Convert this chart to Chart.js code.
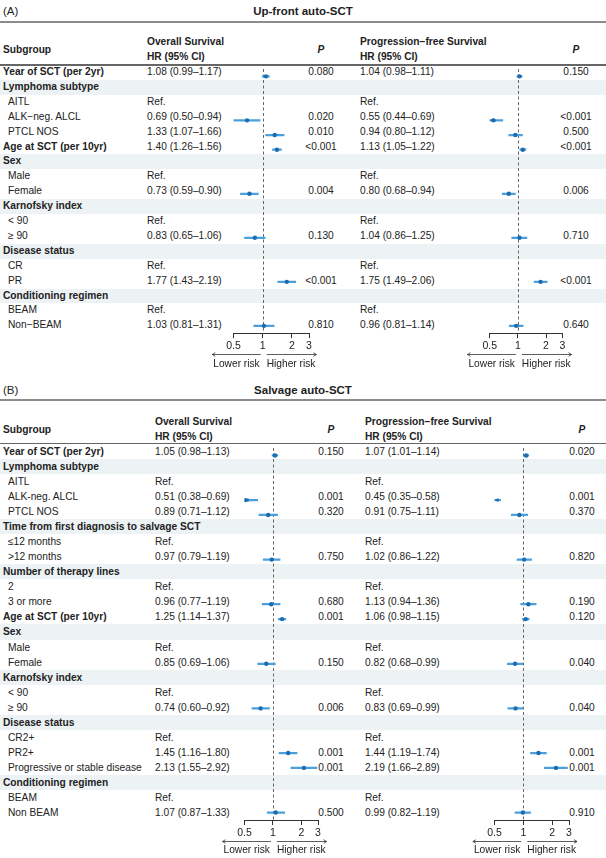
<!DOCTYPE html>
<html>
<head>
<meta charset="utf-8">
<script src="https://cdn.jsdelivr.net/npm/chart.js@4.4.1/dist/chart.umd.min.js"></script>
<style>
  body { margin: 0; background: #fff; }
  #page { position: relative; width: 606px; height: 858px; overflow: hidden; font-family: "Liberation Sans", Arial, Helvetica, sans-serif; font-size: 10.2px; color: #222; }
  .t { position: absolute; white-space: nowrap; }
  .b { font-weight: bold; }
  .c { text-align: center; width: 50px; }
  .band { position: absolute; left: 0; width: 606px; background: #edf2f4; }
  .rule { position: absolute; left: 0; width: 606px; }
  canvas { position: absolute; }
</style>
</head>
<body>
<div id="page"></div>
<script>
// (A) Up-front auto-SCT
const rowsA = ['Year of SCT (per 2yr)', 'Lymphoma subtype', 'AITL', 'ALK−neg. ALCL', 'PTCL NOS', 'Age at SCT (per 10yr)', 'Sex', 'Male', 'Female', 'Karnofsky index', '< 90', '≥ 90', 'Disease status', 'CR', 'PR', 'Conditioning regimen', 'BEAM', 'Non−BEAM'];
// v = single variable, g = group header, r = reference level, l = level
const kindA = ['v', 'g', 'r', 'l', 'l', 'v', 'g', 'r', 'l', 'g', 'r', 'l', 'g', 'r', 'l', 'g', 'r', 'l'];
const osHrA = [1.08, null, null, 0.69, 1.33, 1.40, null, null, 0.73, null, null, 0.83, null, null, 1.77, null, null, 1.03];
const osLoA = [0.99, null, null, 0.50, 1.07, 1.26, null, null, 0.59, null, null, 0.65, null, null, 1.43, null, null, 0.81];
const osHiA = [1.17, null, null, 0.94, 1.66, 1.56, null, null, 0.90, null, null, 1.06, null, null, 2.19, null, null, 1.31];
const osPA = ['0.080', '', '', '0.020', '0.010', '<0.001', '', '', '0.004', '', '', '0.130', '', '', '<0.001', '', '', '0.810'];
const pfsHrA = [1.04, null, null, 0.55, 0.94, 1.13, null, null, 0.80, null, null, 1.04, null, null, 1.75, null, null, 0.96];
const pfsLoA = [0.98, null, null, 0.44, 0.80, 1.05, null, null, 0.68, null, null, 0.86, null, null, 1.49, null, null, 0.81];
const pfsHiA = [1.11, null, null, 0.69, 1.12, 1.22, null, null, 0.94, null, null, 1.25, null, null, 2.06, null, null, 1.14];
const pfsPA = ['0.150', '', '', '<0.001', '0.500', '<0.001', '', '', '0.006', '', '', '0.710', '', '', '<0.001', '', '', '0.640'];

// (B) Salvage auto-SCT
const rowsB = ['Year of SCT (per 2yr)', 'Lymphoma subtype', 'AITL', 'ALK-neg. ALCL', 'PTCL NOS', 'Time from first diagnosis to salvage SCT', '≤12 months', '>12 months', 'Number of therapy lines', '2', '3 or more', 'Age at SCT (per 10yr)', 'Sex', 'Male', 'Female', 'Karnofsky index', '< 90', '≥ 90', 'Disease status', 'CR2+', 'PR2+', 'Progressive or stable disease', 'Conditioning regimen', 'BEAM', 'Non BEAM'];
const kindB = ['v', 'g', 'r', 'l', 'l', 'g', 'r', 'l', 'g', 'r', 'l', 'v', 'g', 'r', 'l', 'g', 'r', 'l', 'g', 'r', 'l', 'l', 'g', 'r', 'l'];
const osHrB = [1.05, null, null, 0.51, 0.89, null, null, 0.97, null, null, 0.96, 1.25, null, null, 0.85, null, null, 0.74, null, null, 1.45, 2.13, null, null, 1.07];
const osLoB = [0.98, null, null, 0.38, 0.71, null, null, 0.79, null, null, 0.77, 1.14, null, null, 0.69, null, null, 0.60, null, null, 1.16, 1.55, null, null, 0.87];
const osHiB = [1.13, null, null, 0.69, 1.12, null, null, 1.19, null, null, 1.19, 1.37, null, null, 1.06, null, null, 0.92, null, null, 1.80, 2.92, null, null, 1.33];
const osPB = ['0.150', '', '', '0.001', '0.320', '', '', '0.750', '', '', '0.680', '0.001', '', '', '0.150', '', '', '0.006', '', '', '0.001', '0.001', '', '', '0.500'];
const pfsHrB = [1.07, null, null, 0.45, 0.91, null, null, 1.02, null, null, 1.13, 1.06, null, null, 0.82, null, null, 0.83, null, null, 1.44, 2.19, null, null, 0.99];
const pfsLoB = [1.01, null, null, 0.35, 0.75, null, null, 0.86, null, null, 0.94, 0.98, null, null, 0.68, null, null, 0.69, null, null, 1.19, 1.66, null, null, 0.82];
const pfsHiB = [1.14, null, null, 0.58, 1.11, null, null, 1.22, null, null, 1.36, 1.15, null, null, 0.99, null, null, 0.99, null, null, 1.74, 2.89, null, null, 1.19];
const pfsPB = ['0.020', '', '', '0.001', '0.370', '', '', '0.820', '', '', '0.190', '0.120', '', '', '0.040', '', '', '0.040', '', '', '0.001', '0.001', '', '', '0.910'];

const xTicks = [0.5, 1, 2, 3];

const ciColor = '#4aa0dc';
const ptColor = '#1c6cb0';
const FONT = '"Liberation Sans", Arial, sans-serif';
const page = document.getElementById('page');

function addText(txt, x, y, cls, extra) {
    const d = document.createElement('div');
    d.className = 't ' + (cls || '');
    d.textContent = txt;
    d.style.left = x + 'px';
    d.style.top = y + 'px';
    if (extra) Object.assign(d.style, extra);
    page.appendChild(d);
    return d;
}

function addBox(cls, top, h, color) {
    const d = document.createElement('div');
    d.className = cls;
    d.style.top = top + 'px';
    d.style.height = h + 'px';
    if (color) d.style.background = color;
    page.appendChild(d);
}

const fmt = v => v.toFixed(2);

// vertical dashed line at HR = 1
const refLine = {
    id: 'refLine',
    beforeDatasetsDraw(chart) {
        const { ctx, chartArea } = chart;
        const x = Math.round(chart.scales.x.getPixelForValue(1)) + 0.5;
        ctx.save();
        ctx.strokeStyle = '#666';
        ctx.lineWidth = 1;
        ctx.setLineDash([3, 2.5]);
        ctx.beginPath();
        ctx.moveTo(x, chartArea.top);
        ctx.lineTo(x, chartArea.bottom);
        ctx.stroke();
        ctx.restore();
    }
};

// arrows + "Lower risk / Higher risk" under the axis, and left arrowheads for cut CIs
const riskArrows = {
    id: 'riskArrows',
    afterDraw(chart) {
        const { ctx, chartArea } = chart;
        const xs = chart.scales.x;
        const x1 = xs.getPixelForValue(1);
        const ay = Math.round(chartArea.bottom + 21) + 0.5;
        const ty = chartArea.bottom + 30.5;
        ctx.save();
        ctx.font = '10.2px ' + FONT;
        ctx.fillStyle = '#222';
        ctx.strokeStyle = '#333';
        ctx.lineWidth = 0.8;
        ctx.textBaseline = 'middle';
        const wl = ctx.measureText('Lower risk').width;
        const wh = ctx.measureText('Higher risk').width;
        ctx.textAlign = 'right';
        ctx.fillText('Lower risk', x1 - 3, ty);
        ctx.textAlign = 'left';
        ctx.fillText('Higher risk', x1 + 4, ty);
        const la = x1 - 3 - wl - 1, lb = x1 - 2;
        const ra = x1 + 4, rb = x1 + 4 + wh + 1;
        ctx.beginPath();
        ctx.moveTo(lb, ay); ctx.lineTo(la, ay);
        ctx.moveTo(la + 3, ay - 1.8); ctx.lineTo(la, ay); ctx.lineTo(la + 3, ay + 1.8);
        ctx.moveTo(ra, ay); ctx.lineTo(rb, ay);
        ctx.moveTo(rb - 3, ay - 1.8); ctx.lineTo(rb, ay); ctx.lineTo(rb - 3, ay + 1.8);
        ctx.stroke();

        const lo = chart.config.options.ciLow || [];
        const ys = chart.scales.y;
        ctx.fillStyle = ptColor;
        lo.forEach((v, i) => {
            if (v == null || v >= xs.min) return;
            const y = ys.getPixelForValue(i);
            const x = chartArea.left;
            ctx.beginPath();
            ctx.moveTo(x, y);
            ctx.lineTo(x + 4, y - 2);
            ctx.lineTo(x + 4, y + 2);
            ctx.closePath();
            ctx.fill();
        });
        ctx.restore();
    }
};

function forest(rows, hr, lo, hi, top, rowH, range) {
    const padL = 45, padR = 30, axisH = 42;
    const left = Math.floor(range[0]) - padL;
    const w = Math.ceil(range[1] - left + padR);
    const h = Math.ceil(rows.length * rowH + axisH);
    const canvas = document.createElement('canvas');
    canvas.width = w;
    canvas.height = h;
    canvas.style.left = left + 'px';
    canvas.style.top = top + 'px';
    page.appendChild(canvas);

    new Chart(canvas, {
        type: 'bar',
        data: {
            labels: rows,
            datasets: [
                {
                    type: 'scatter',
                    data: hr.map((v, i) => v == null ? null : { x: v, y: rows[i] }).filter(Boolean),
                    backgroundColor: ptColor,
                    borderWidth: 0,
                    pointRadius: 2.2
                },
                {
                    type: 'bar',
                    data: lo.map((v, i) => v == null ? null : [v, hi[i]]),
                    backgroundColor: ciColor,
                    borderWidth: 0,
                    barThickness: 1.6
                }
            ]
        },
        options: {
            indexAxis: 'y',
            responsive: false,
            animation: false,
            events: [],
            ciLow: lo,
            layout: { padding: { left: range[0] - left, right: left + w - range[1], top: 0, bottom: h - rows.length * rowH - axisH } },
            plugins: { legend: { display: false }, tooltip: { enabled: false } },
            scales: {
                x: {
                    type: 'logarithmic',
                    min: xTicks[0],
                    max: xTicks[xTicks.length - 1],
                    afterBuildTicks: s => { s.ticks = xTicks.map(v => ({ value: v })); },
                    afterFit: s => { s.height = axisH; },
                    ticks: {
                        callback: v => String(v),
                        autoSkip: false,
                        maxRotation: 0,
                        padding: 2,
                        color: '#222',
                        font: { size: 10.5, family: FONT }
                    },
                    grid: { drawOnChartArea: false, drawTicks: true, tickLength: 5, color: '#333', lineWidth: 1 },
                    border: { display: true, color: '#333', width: 1 }
                },
                y: { type: 'category', display: false, offset: true }
            }
        },
        plugins: [refLine, riskArrows]
    });
}

function panel(L, rows, kind, os, pfs) {
    // title
    addText(L.tag, 3, L.titleY - 8, '', { fontSize: '11.5px', lineHeight: '16px' });
    addText(L.title, 0, L.titleY - 8, 'b', { fontSize: '11.5px', lineHeight: '16px', width: '606px', textAlign: 'center' });
    addBox('rule', L.ruleY - 1.25, 2.5, '#8c8c8c');

    // header
    const hl = { lineHeight: '14px' };
    addText('Subgroup', 3, L.headMid - 7, 'b', hl);
    addText('Overall Survival', L.hr1X, L.head1Y - 7, 'b', hl);
    addText('HR (95% CI)', L.hr1X, L.head2Y - 7, 'b', hl);
    addText('P', L.p1X - 25, L.headMid - 7, 'b c', Object.assign({ fontStyle: 'italic' }, hl));
    addText('Progression−free Survival', L.hr2X, L.head1Y - 7, 'b', hl);
    addText('HR (95% CI)', L.hr2X, L.head2Y - 7, 'b', hl);
    addText('P', L.p2X - 25, L.headMid - 7, 'b c', Object.assign({ fontStyle: 'italic' }, hl));

    // rows
    rows.forEach((name, i) => {
        const y = L.top + i * L.rowH;
        const k = kind[i];
        const st = { lineHeight: L.rowH + 'px', height: L.rowH + 'px' };
        if (k === 'g') addBox('band', y, L.rowH);
        const bold = k === 'v' || k === 'g';
        addText(name, bold ? 3 : 8, y, bold ? 'b' : '', st);
        [[os, L.hr1X, L.p1X], [pfs, L.hr2X, L.p2X]].forEach(([s, hx, px]) => {
            if (k === 'r') addText('Ref.', hx, y, '', st);
            if (k === 'v' || k === 'l') {
                addText(`${fmt(s.hr[i])} (${fmt(s.lo[i])}–${fmt(s.hi[i])})`, hx, y, '', st);
                addText(s.p[i], px - 25, y, 'c', st);
            }
        });
    });
    addBox('rule', L.headRuleY - 0.75, 1.5, '#666');

    forest(rows, os.hr, os.lo, os.hi, L.top, L.rowH, L.plot1);
    forest(rows, pfs.hr, pfs.lo, pfs.hi, L.top, L.rowH, L.plot2);
}

panel(
    { tag: '(A)', title: 'Up-front auto-SCT', titleY: 11, ruleY: 22, head1Y: 42, head2Y: 57, headMid: 49.5, headRuleY: 65,
      top: 65, rowH: 14.9, hr1X: 147, plot1: [233.5, 309], p1X: 321, hr2X: 360, plot2: [489.7, 562.5], p2X: 576 },
    rowsA, kindA,
    { hr: osHrA, lo: osLoA, hi: osHiA, p: osPA },
    { hr: pfsHrA, lo: pfsLoA, hi: pfsHiA, p: pfsPA }
);

panel(
    { tag: '(B)', title: 'Salvage auto-SCT', titleY: 390, ruleY: 400, head1Y: 422, head2Y: 437, headMid: 429.5, headRuleY: 443.5,
      top: 444, rowH: 15.04, hr1X: 155, plot1: [244.5, 318], p1X: 331, hr2X: 365, plot2: [494.5, 569], p2X: 582 },
    rowsB, kindB,
    { hr: osHrB, lo: osLoB, hi: osHiB, p: osPB },
    { hr: pfsHrB, lo: pfsLoB, hi: pfsHiB, p: pfsPB }
);
</script>
</body>
</html>
